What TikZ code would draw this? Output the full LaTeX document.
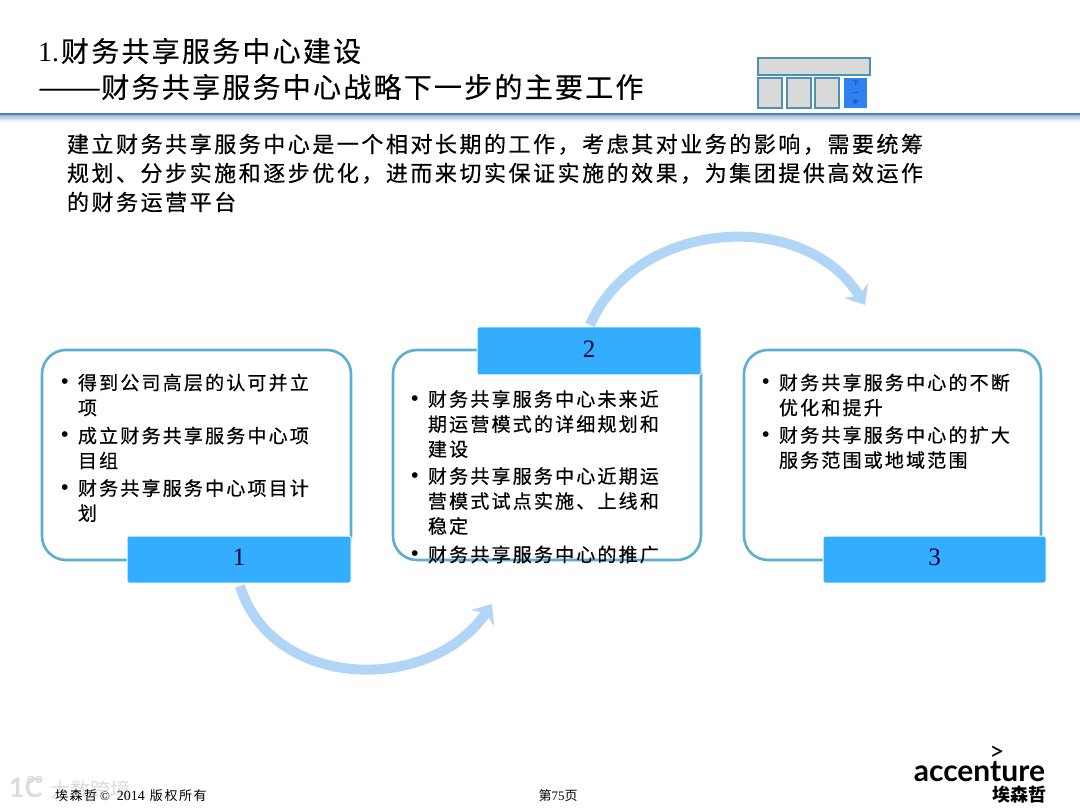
\documentclass[tikz,border=0pt]{standalone}
\usepackage{fontspec}
\setmainfont{Liberation Serif}
\newfontfamily\cjk{Noto Sans CJK SC}
\newfontfamily\cjktitle[LetterSpace=8,FakeBold=0.3]{Noto Sans CJK SC}
\newfontfamily\cjkbody[LetterSpace=11.5,FakeBold=0.5]{Noto Sans CJK SC}
\newfontfamily\cjkitem[LetterSpace=11.5,FakeBold=0.5]{Noto Sans CJK SC}
\newfontfamily\cjkfoot[LetterSpace=12]{Noto Sans CJK SC}
\newfontfamily\logofont{Lato}
\usetikzlibrary{arrows.meta}
\definecolor{barblue}{HTML}{33AEFF}
\definecolor{edgeblue}{HTML}{5AAFD2}
\definecolor{arrowblue}{HTML}{B0D5F7}
\definecolor{ruleblue}{HTML}{4A7FB8}
\definecolor{navedge}{HTML}{4A93B5}
\definecolor{navgrey}{HTML}{D9D9D9}
\definecolor{navblue}{HTML}{2F80F0}
\definecolor{markgrey}{HTML}{DCDCDC}
\newcommand{\itemdot}{\llap{\rmfamily\fontsize{24}{25}\selectfont •\hspace{9pt}}}
\begin{document}
\begin{tikzpicture}[x=1pt, y=-1pt,
  every node/.style={inner sep=0pt, outer sep=0pt},
  titletext/.style={anchor=west, align=left, font=\fontsize{28}{36}\selectfont\cjktitle},
  bodytext/.style={anchor=west, align=left, font=\fontsize{22}{29}\selectfont\cjkbody},
  itemtext/.style={anchor=west, align=left, font=\fontsize{19}{25}\selectfont\cjkitem},
  footertext/.style={font=\fontsize{14}{14}\selectfont},
  roundbox/.style={draw=edgeblue, line width=2.6pt, rounded corners=24pt, fill=white},
  numberbar/.style={fill=barblue, draw=white, line width=1pt, rounded corners=2pt, text depth=4pt, font=\fontsize{25}{25}\selectfont, text=black!80!blue},
  navbox/.style={draw=navedge, line width=1.2pt, fill=navgrey},
  flowarrow/.style={draw=arrowblue, line width=10pt, -{Stealth[length=17pt, width=28pt, inset=6pt]}}]
  \useasboundingbox (0,0) rectangle (1080,810);

  \node[titletext] (title) at (38,69) {{\rmfamily 1.}\hspace{2pt}财务共享服务中心建设\\\scalebox{1.35}[1]{——}财务共享服务中心战略下一步的主要工作};

  \fill[ruleblue] (0,113) rectangle (1080,116);
  \shade[top color=ruleblue!45, bottom color=white] (0,116) rectangle (1080,122);

  \node[navbox, minimum width=112pt, minimum height=17pt] (navtop) at (814,66.5) {};
  \node[navbox, minimum width=24pt, minimum height=30pt] (nava) at (770,93) {};
  \node[navbox, minimum width=24pt, minimum height=30pt] (navb) at (799,93) {};
  \node[navbox, minimum width=24pt, minimum height=30pt] (navc) at (827,93) {};
  \node[fill=navblue, minimum width=23pt, minimum height=30pt, align=center, text=black!50!navblue, font=\fontsize{6}{9.5}\selectfont\cjk] (navd) at (855.5,93) {下\\一\\步};

  \node[bodytext] (intro) at (67,173) {建立财务共享服务中心是一个相对长期的工作，考虑其对业务的影响，需要统筹\\规划、分步实施和逐步优化，进而来切实保证实施的效果，为集团提供高效运作\\的财务运营平台};

  \node[roundbox, minimum width=309pt, minimum height=210pt] (box1) at (196.5,455) {};
  \node[roundbox, minimum width=308pt, minimum height=210pt] (box2) at (547,455) {};
  \node[roundbox, minimum width=297pt, minimum height=210pt] (box3) at (892.5,455) {};

  \node[numberbar, minimum width=224pt, minimum height=47pt] (bar1) at (239,559.5) {1};
  \node[numberbar, minimum width=224pt, minimum height=48pt] (bar2) at (589,351) {2};
  \node[numberbar, minimum width=223pt, minimum height=47pt] (bar3) at (934.5,559.5) {3};

  \node[itemtext] (item1a) at (78,395) {\itemdot 得到公司高层的认可并立\\项};
  \node[itemtext] (item1b) at (78,448) {\itemdot 成立财务共享服务中心项\\目组};
  \node[itemtext] (item1c) at (78,500.5) {\itemdot 财务共享服务中心项目计\\划};

  \node[itemtext] (item2a) at (428,424) {\itemdot 财务共享服务中心未来近\\期运营模式的详细规划和\\建设};
  \node[itemtext] (item2b) at (428,501) {\itemdot 财务共享服务中心近期运\\营模式试点实施、上线和\\稳定};
  \node[itemtext] (item2c) at (428,554.5) {\itemdot 财务共享服务中心的推广};

  \node[itemtext] (item3a) at (779,395) {\itemdot 财务共享服务中心的不断\\优化和提升};
  \node[itemtext] (item3b) at (779,447.5) {\itemdot 财务共享服务中心的扩大\\服务范围或地域范围};

  \coordinate (arrowa) at (240,586);
  \coordinate (arrowb) at (492,604);
  \coordinate (arrowc) at (590,325);
  \coordinate (arrowd) at (865,305);

  \draw[flowarrow] (arrowa) .. controls (272,690) and (430,695) .. (arrowb);
  \draw[flowarrow] (arrowc) .. controls (636,219) and (804,207) .. (arrowd);

  \node[text=markgrey, anchor=west, font=\fontsize{27}{27}\selectfont\logofont\bfseries] (markone) at (9,788) {1C};
  \node[text=markgrey, font=\fontsize{14}{14}\selectfont\logofont\bfseries] (markzero) at (35,780) {oo};
  \node[text=markgrey, anchor=west, font=\fontsize{20}{20}\selectfont\cjk] (markname) at (50,790) {大数跨境};

  \node[footertext, anchor=west] (copyright) at (55,796) {\fontsize{13}{14}\selectfont\cjkfoot 埃森哲\hspace{3pt}\rmfamily©\hspace{7pt}\fontsize{14}{14}\selectfont 2014\hspace{5pt}\fontsize{13}{14}\selectfont\cjkfoot 版权所有};
  \node[footertext] (page) at (558,796) {\fontsize{13}{14}\selectfont\cjkfoot 第\rmfamily 75\cjkfoot 页};

  \node[anchor=base east, font=\fontsize{30}{30}\selectfont\logofont\bfseries] (accenture) at (1045,781) {accenture};
  \node[font=\fontsize{26}{26}\selectfont\logofont] (gt) at (997,753) {>};
  \node[anchor=east, font=\fontsize{18}{18}\selectfont\cjk\bfseries] (logoname) at (1046,795) {埃森哲};
\end{tikzpicture}
\end{document}
